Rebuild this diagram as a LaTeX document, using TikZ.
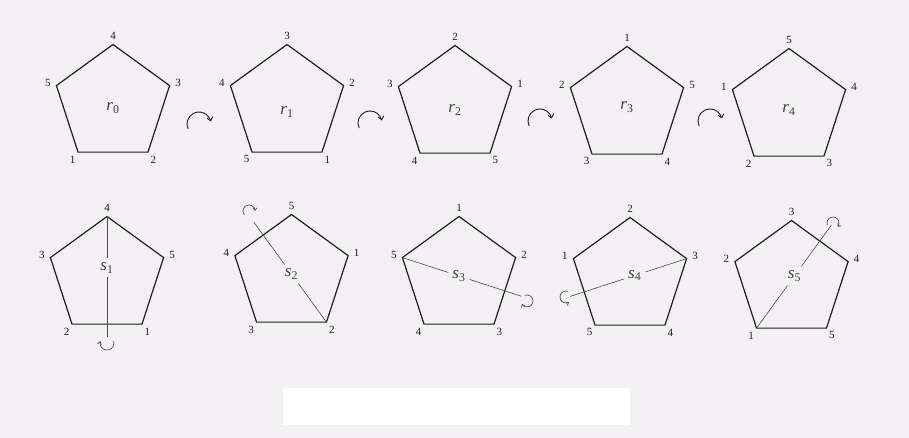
\documentclass[tikz,border=0pt]{standalone}
\usepackage{fontspec}
\setmainfont{Liberation Serif}
\usetikzlibrary{calc,arrows.meta}
\definecolor{paper}{RGB}{243,241,243}
\definecolor{ink}{RGB}{30,30,30}
\tikzset{
  edge/.style={draw=ink, line width=1.2pt, line join=miter},
  vlabel/.style={font=\fontsize{11}{11}\selectfont, inner sep=0pt, text=ink},
  symlab/.style={font=\fontsize{17}{17}\selectfont, inner sep=4pt, text=ink!85},
  axisline/.style={draw=ink!80, line width=0.6pt},
  rotarrow/.style={draw=ink, line width=0.9pt, -{Straight Barb[length=3.5pt,width=6pt]}},
  curlarrow/.style={draw=ink!80, line width=0.7pt, -{Straight Barb[length=2.5pt,width=4pt]}},
}
\newcommand\Rad{59.5}
% #1 name, #2 centre, #3 labels clockwise from top
\newcommand\pentagon[3]{%
  \coordinate (#1) at #2;
  \foreach \lab [count=\i] in {#3} {
    \pgfmathsetmacro\ang{90-72*(\i-1)}
    \coordinate (#1-\i) at ($(#1)+(\ang:\Rad)$);
    \node[vlabel] (#1-l\i) at ($(#1)+(\ang:\Rad+9)$) {\lab};
  }
  \draw[edge] (#1-1) -- (#1-2) -- (#1-3) -- (#1-4) -- (#1-5) -- cycle;
}
\newcommand\sym[2]{\textit{#1}\textsubscript{#2}}
\begin{document}
\begin{tikzpicture}[x=1pt,y=1pt]
\fill[paper] (0,0) rectangle (909,438);
\useasboundingbox (0,0) rectangle (909,438);
\fill[white] (283,13) rectangle (630,50);

% rotations
\pentagon{r0}{(113,334)}{4,3,2,1,5}
\pentagon{r1}{(287,334)}{3,2,1,5,4}
\pentagon{r2}{(455,333)}{2,1,5,4,3}
\pentagon{r3}{(627,332)}{1,5,4,3,2}
\pentagon{r4}{(789,330)}{5,4,3,2,1}
\node[symlab] (r0lab) at ($(r0)+(0,-4)$) {\sym{r}{0}};
\node[symlab] (r1lab) at ($(r1)+(0,-8)$) {\sym{r}{1}};
\node[symlab] (r2lab) at ($(r2)+(0,-5)$) {\sym{r}{2}};
\node[symlab] (r3lab) at ($(r3)+(0,-1)$) {\sym{r}{3}};
\node[symlab] (r4lab) at ($(r4)+(0,-2)$) {\sym{r}{4}};

\coordinate (rot1) at (199,314);
\coordinate (rot2) at (370,315);
\coordinate (rot3) at (540,317);
\coordinate (rot4) at (710,317);
\foreach \c in {rot1,rot2,rot3,rot4}
  \draw[rotarrow] ($(\c)+(205:12)$) arc[start angle=205, end angle=12, radius=12];

% reflections
\pentagon{s1}{(107,162)}{4,5,1,2,3}
\pentagon{s2}{(291.5,164)}{5,1,2,3,4}
\pentagon{s3}{(459,162)}{1,2,3,4,5}
\pentagon{s4}{(630,161)}{2,3,4,5,1}
\pentagon{s5}{(791.5,158)}{3,4,5,1,2}

\node[symlab] (s1lab) at ($(s1)+(90:8)$) {\sym{s}{1}};
\node[symlab] (s2lab) at (s2) {\sym{s}{2}};
\node[symlab] (s3lab) at (s3) {\sym{s}{3}};
\node[symlab] (s4lab) at ($(s4)+(18:5)$) {\sym{s}{4}};
\node[symlab] (s5lab) at ($(s5)+(54:5)$) {\sym{s}{5}};

\coordinate (s1end) at ($(s1)+(-90:61)$);
\coordinate (s2end) at ($(s2)+(126:64)$);
\coordinate (s3end) at ($(s3)+(-18:65)$);
\coordinate (s4end) at ($(s4)+(198:63)$);
\coordinate (s5end) at ($(s5)+(54:68)$);

\draw[axisline] (s1-1) -- (s1lab) (s1lab) -- (s1end);
\draw[axisline] (s2-3) -- (s2lab) (s2lab) -- (s2end);
\draw[axisline] (s3-5) -- (s3lab) (s3lab) -- (s3end);
\draw[axisline] (s4-2) -- (s4lab) (s4lab) -- (s4end);
\draw[axisline] (s5-4) -- (s5lab) (s5lab) -- (s5end);

\coordinate (c1) at (107,95);
\coordinate (c2) at (249,227);
\coordinate (c3) at (527,137);
\coordinate (c4) at (566,141);
\coordinate (c5) at (833,215);
\draw[curlarrow] ($(c1)+(15:7)$) arc[start angle=15, end angle=-195, radius=7];
\draw[curlarrow] ($(c2)+(220:6)$) arc[start angle=220, end angle=0, radius=6];
\draw[curlarrow] ($(c3)+(110:6)$) arc[start angle=110, end angle=-150, radius=6];
\draw[curlarrow] ($(c4)+(70:6)$) arc[start angle=70, end angle=300, radius=6];
\draw[curlarrow] ($(c5)+(200:6)$) arc[start angle=200, end angle=-40, radius=6];
\end{tikzpicture}
\end{document}
